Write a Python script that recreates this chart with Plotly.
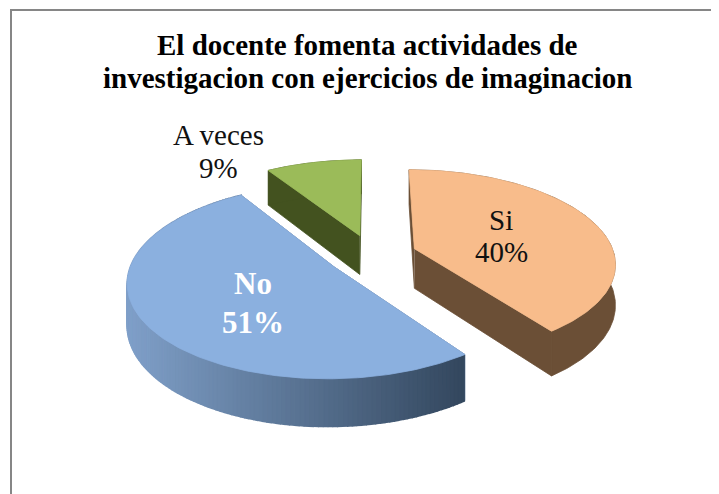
import numpy as np
import plotly.graph_objects as go

title_lines = ["El docente fomenta actividades de", "investigacion con ejercicios de imaginacion"]
categories = ["Si", "No", "A veces"]
values = [40, 51, 9]
top_colors = ["#F8BC8B", "#8BB0DF", "#9BBB59"]
side_colors = ["#6B4F36", "#5A7496", "#43521F"]

W, H = 719, 494
PAGE_MARGIN = 8
CX, CY = 372, 255
A, B, K = 200, 92, 0.1445
DEPTH = 40
EXPLODE = 0.225
FONT = "Liberation Serif"


def project(X, Y, drop=0.0):
    w = 1 + K * np.asarray(Y)
    return CX + A * np.asarray(X) / w, CY - B * np.asarray(Y) / w + drop * DEPTH / w


def lerp(c1, c2, t):
    a = [int(c1[i:i + 2], 16) for i in (1, 3, 5)]
    b = [int(c2[i:i + 2], 16) for i in (1, 3, 5)]
    return "rgb(%d,%d,%d)" % tuple(round(p + (q - p) * t) for p, q in zip(a, b))


def poly(fig, xs, ys, color, name, width=0.8):
    fig.add_trace(go.Scatter(x=list(xs), y=list(ys), mode="lines", fill="toself", fillcolor=color,
                             line=dict(color=color, width=width), hoverinfo="text", text=name,
                             showlegend=False))


fig = go.Figure()
total = sum(values)
edges = np.cumsum([0] + values) / total * 2 * np.pi
order = [2, 0, 1]  # back to front
for i in order:
    t0, t1 = edges[i], edges[i + 1]
    mid = (t0 + t1) / 2
    ox, oy = EXPLODE * np.sin(mid), EXPLODE * np.cos(mid)
    th = np.linspace(t0, t1, 160)
    rx, ry = ox + np.sin(th), oy + np.cos(th)
    # cut faces
    for xe, ye in ((rx[0], ry[0]), (rx[-1], ry[-1])):
        X = np.array([ox, xe])
        Y = np.array([oy, ye])
        xt, yt = project(X, Y)
        xb, yb = project(X, Y, 1)
        poly(fig, np.r_[xt, xb[::-1]], np.r_[yt, yb[::-1]], side_colors[i], categories[i])
    # rim: the "No" slice has a graded side
    graded = categories[i] == "No"
    step = 1 if graded else len(th) - 1
    for s in range(0, len(th) - 1, step):
        xt, yt = project(rx[s:s + step + 1], ry[s:s + step + 1])
        xb, yb = project(rx[s:s + step + 1], ry[s:s + step + 1], 1)
        f = np.clip((xt.mean() - 130) / 330, 0, 1)
        c = lerp("#7F9FC8", "#34485F", f) if graded else side_colors[i]
        poly(fig, np.r_[xt, xb[::-1]], np.r_[yt, yb[::-1]], c, categories[i], 1.6 if graded else 0.8)
    # top face
    xt, yt = project(np.r_[ox, rx, ox], np.r_[oy, ry, oy])
    poly(fig, xt, yt, top_colors[i], categories[i])

label_pos = {"Si": (501, 220, 32, "#111111", False, 29),
             "No": (253, 283, 39, "#FFFFFF", True, 31),
             "A veces": (218, 135, 33, "#111111", False, 29)}
anns = []
for c, v in zip(categories, values):
    x, y, gap, col, bold, size = label_pos[c]
    for k, txt in enumerate((c, f"{v}%")):
        anns.append(dict(x=x, y=y + k * gap, xref="x", yref="y", showarrow=False,
                         text=f"<b>{txt}</b>" if bold else txt,
                         font=dict(family=FONT, size=size, color=col)))
for k, line in enumerate(title_lines):
    anns.append(dict(x=367, y=45 + k * 33, xref="x", yref="y", showarrow=False, text=f"<b>{line}</b>",
                     font=dict(family=FONT, size=29, color="#000000")))

# the page keeps an 8 px body margin: the axes below still count reference pixels
fig.update_layout(
    width=W - PAGE_MARGIN, height=H - PAGE_MARGIN, margin=dict(l=0, r=0, t=0, b=0), autosize=False,
    paper_bgcolor="white", plot_bgcolor="white", annotations=anns,
    xaxis=dict(range=[PAGE_MARGIN, W], visible=False, fixedrange=True),
    yaxis=dict(range=[H, PAGE_MARGIN], visible=False, fixedrange=True),
    shapes=[dict(type="rect", xref="x", yref="y", x0=11, y0=10, x1=W + 10, y1=H + 10,
                 line=dict(color="#868686", width=2), layer="below")],
)
fig.write_html("out.html")
